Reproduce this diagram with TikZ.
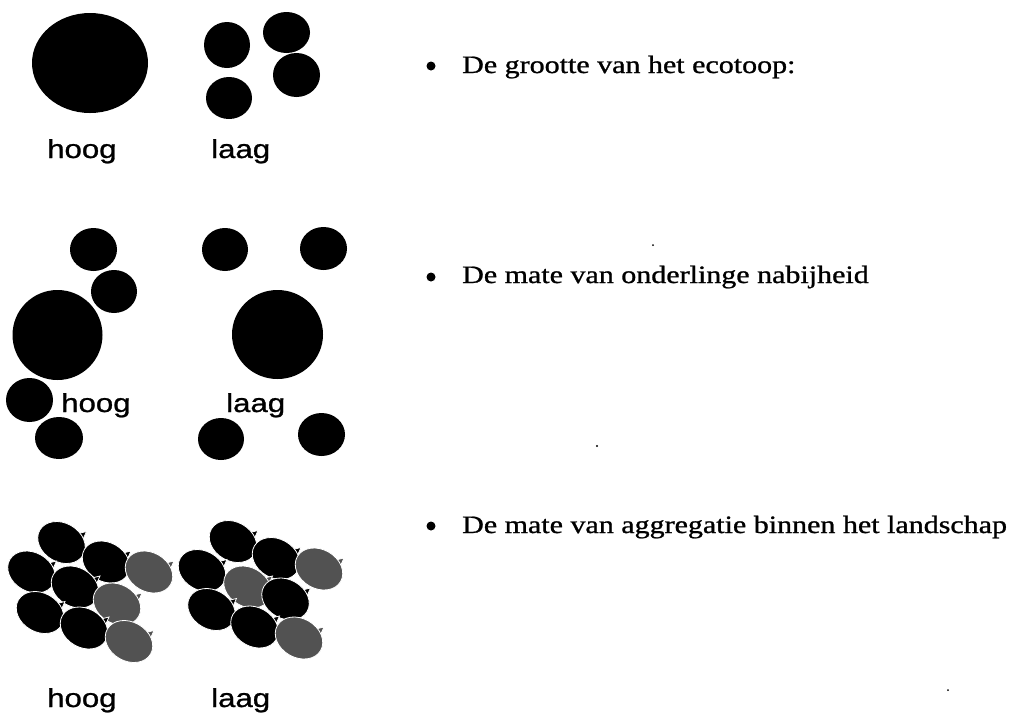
\documentclass[tikz,border=0pt]{standalone}
\usepackage{fontspec}
\setmainfont{Liberation Serif}
\newfontfamily\itemfont{Liberation Serif}[FakeBold=0.9]
\newfontfamily\labelfont{Liberation Sans}[FakeBold=0.9]
\usetikzlibrary{patterns}

% wide set text, as in the printed sheet
\newcommand{\wide}[1]{\scalebox{1.2}[1]{#1}}

\begin{document}
\begin{tikzpicture}[x=1pt,y=-1pt,
  disc/.style={fill=black},
  lbl/.style={anchor=base west, inner sep=0pt, font=\labelfont\fontsize{26}{30}\selectfont},
  item/.style={anchor=base west, inner sep=0pt, font=\itemfont\fontsize{25}{30}\selectfont},
  bullet/.style={fill=black},
  speck/.style={fill=black},
  darkpatch/.style={fill=black},
  greypatch/.style={fill=black!68, postaction={pattern=crosshatch dots, pattern color=white!70!black}},
  patch/.pic={
    \path[pic actions, draw=white, line width=0.8]
      (17,-9) -- (25,-11) -- (21,-2) -- cycle;
    \path[pic actions, draw=white, line width=0.8, rotate=-30]
      (0,0) ellipse [x radius=25, y radius=19.5];
  }
]
\useasboundingbox (0,0) rectangle (1013,716);

% ---- size of the ecotope ----
\fill[disc] (90,63) ellipse [x radius=58, y radius=50];
\fill[disc] (227,45) ellipse [x radius=23, y radius=23];
\fill[disc] (286.5,32.5) ellipse [x radius=23.5, y radius=20.5];
\fill[disc] (296.5,75) ellipse [x radius=23.5, y radius=22];
\fill[disc] (229,98) ellipse [x radius=23, y radius=21];
\node[lbl] (hoog1) at (47,158) {\wide{hoog}};
\node[lbl] (laag1) at (211,158) {\wide{laag}};

% ---- mutual proximity ----
\fill[disc] (93.5,249.5) ellipse [x radius=23.5, y radius=21.5];
\fill[disc] (114,291.5) ellipse [x radius=23, y radius=21.5];
\fill[disc] (57.5,335) ellipse [x radius=45, y radius=45];
\fill[disc] (29.5,400) ellipse [x radius=23.5, y radius=22];
\fill[disc] (59,438) ellipse [x radius=24, y radius=21];
\node[lbl] (hoog2) at (61,412) {\wide{hoog}};

\fill[disc] (225,249.5) ellipse [x radius=23, y radius=21.5];
\fill[disc] (323.5,248.5) ellipse [x radius=23.5, y radius=21.5];
\fill[disc] (277.5,334.5) ellipse [x radius=45.5, y radius=44.5];
\fill[disc] (221,439) ellipse [x radius=23, y radius=21];
\fill[disc] (321.5,434.5) ellipse [x radius=23.5, y radius=21.5];
\node[lbl] (laag2) at (226,412) {\wide{laag}};

% ---- aggregation in the landscape: high ----
\pic[darkpatch] at (61.5,542.5) {patch};
\pic[darkpatch] at (31.5,572) {patch};
\pic[darkpatch] at (106,562) {patch};
\pic[greypatch] at (149,572) {patch};
\pic[darkpatch] at (75,587) {patch};
\pic[greypatch] at (117,604) {patch};
\pic[darkpatch] at (40,612.5) {patch};
\pic[darkpatch] at (84,628) {patch};
\pic[greypatch] at (129,641.5) {patch};

% ---- aggregation in the landscape: low ----
\pic[darkpatch] at (233,541.5) {patch};
\pic[darkpatch] at (202,570.5) {patch};
\pic[darkpatch] at (276,558.5) {patch};
\pic[greypatch] at (319,569) {patch};
\pic[greypatch] at (247.5,587) {patch};
\pic[darkpatch] at (285.5,599) {patch};
\pic[darkpatch] at (211.5,609.5) {patch};
\pic[darkpatch] at (254.5,627) {patch};
\pic[greypatch] at (299,638) {patch};

\node[lbl] (hoog3) at (47,707) {\wide{hoog}};
\node[lbl] (laag3) at (211,707) {\wide{laag}};

% ---- bulleted descriptions ----
\fill[bullet] (431,66) circle [radius=4.5];
\node[item] (t1) at (462,73) {\wide{De grootte van het ecotoop:}};
\fill[bullet] (431,277) circle [radius=4.5];
\node[item] (t2) at (462,283) {\wide{De mate van onderlinge nabijheid}};
\fill[bullet] (431,526) circle [radius=4.5];
\node[item] (t3) at (462,533) {\wide{De mate van aggregatie binnen het landschap}};

% loose specks on the sheet
\fill[speck] (597,446) circle [radius=1.2];
\fill[speck] (653,245) circle [radius=1];
\fill[speck] (948,690) circle [radius=1];
\end{tikzpicture}
\end{document}
